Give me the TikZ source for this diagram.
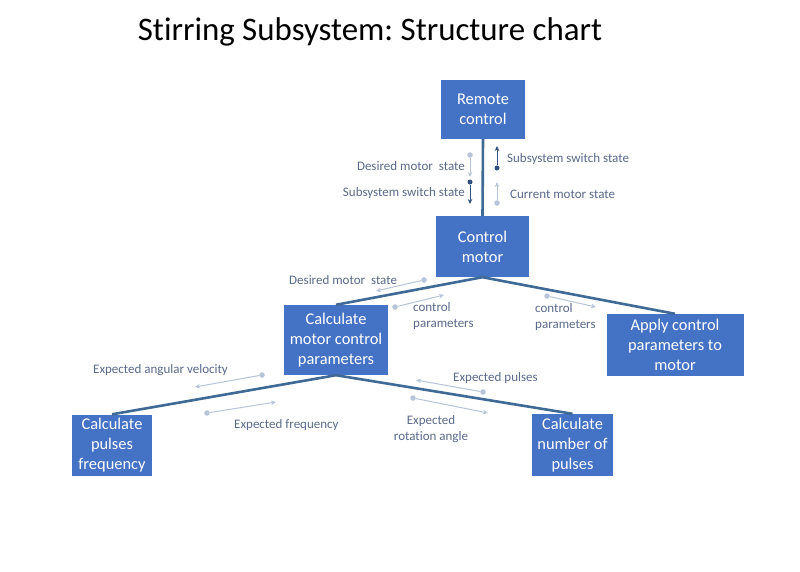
\documentclass[tikz,border=0pt]{standalone}
\usepackage{fontspec}
\setmainfont[Ligatures={NoCommon}]{Carlito}
\usetikzlibrary{arrows.meta}
\frenchspacing
\definecolor{boxblue}{HTML}{4472C4}
\definecolor{linkblue}{HTML}{3F6A95}
\definecolor{lightarr}{HTML}{B8C4D8}
\definecolor{darkdot}{HTML}{34507E}
\definecolor{labelgrey}{HTML}{5A6A8A}
\tikzset{
  box/.style={fill=boxblue, text=white, align=center, font=\fontsize{16.4}{20}\selectfont, inner sep=0pt},
  link/.style={draw=linkblue, line width=2.6pt},
  flowlight/.style={draw=lightarr, line width=1pt, -{Stealth[length=5pt,width=4.5pt]}},
  flowdark/.style={draw=darkdot, line width=1pt, -{Stealth[length=5pt,width=4.5pt]}},
  lightdot/.style={circle, fill=lightarr, inner sep=0pt, minimum size=5.5pt},
  darkdotn/.style={circle, fill=darkdot, inner sep=0pt, minimum size=5pt},
  lbl/.style={text=labelgrey, font=\fontsize{13}{15.5}\selectfont, inner sep=0pt}
}
\begin{document}
\begin{tikzpicture}[x=1pt,y=-1pt]
\useasboundingbox[fill=white] (0,0) rectangle (800,571);
\node[font=\fontsize{32.9}{38}\selectfont, inner sep=0pt] (title) at (370,32) {Stirring Subsystem: Structure chart};

\node[box, minimum width=84pt, minimum height=59pt] (remote) at (483,109.5) {Remote\\control};
\node[box, minimum width=93pt, minimum height=61pt] (ctrl) at (482.5,246.5) {Control\\motor};
\node[box, minimum width=104pt, minimum height=70pt] (calcm) at (336,340) {Calculate\\motor control\\parameters};
\node[box, minimum width=137pt, minimum height=62pt] (apply) at (675,345) {Apply control\\parameters to\\motor};
\node[box, minimum width=80pt, minimum height=61pt] (pulsef) at (112,445) {Calculate\\pulses\\frequency};
\node[box, minimum width=81pt, minimum height=62pt] (pulsen) at (572.5,445) {Calculate\\number of\\pulses};

\draw[link] (remote.south) -- (ctrl.north);
\draw[link] (ctrl.south) -- (calcm.north);
\draw[link] (ctrl.south) -- (apply.north);
\draw[link] (calcm.south) -- (pulsef.north);
\draw[link] (calcm.south) -- (pulsen.north);

% remote <-> control motor flows
\node[lightdot] (d1) at (470,155) {}; \coordinate (t1) at (470,177);
\draw[flowlight] (d1) -- (t1);
\node[lbl, anchor=east] (l1) at (465,166) {Desired motor\ \ state};
\node[darkdotn] (d2) at (470,182) {}; \coordinate (t2) at (470,204);
\draw[flowdark] (d2) -- (t2);
\node[lbl, anchor=east] (l2) at (465,193) {Subsystem switch state};
\node[darkdotn] (d3) at (497,168) {}; \coordinate (t3) at (497,146);
\draw[flowdark] (d3) -- (t3);
\node[lbl, anchor=west] (l3) at (507,159) {Subsystem switch state};
\node[lightdot] (d4) at (497,203) {}; \coordinate (t4) at (497,182);
\draw[flowlight] (d4) -- (t4);
\node[lbl, anchor=west] (l4) at (510,194) {Current motor state};

% control motor <-> children
\node[lightdot] (d5) at (424,280) {}; \coordinate (t5) at (376,291);
\draw[flowlight] (d5) -- (t5);
\node[lbl, anchor=west] (l5) at (289,280) {Desired motor\ \ state};
\node[lightdot] (d6) at (395,307) {}; \coordinate (t6) at (444,295);
\draw[flowlight] (d6) -- (t6);
\node[lbl, anchor=west, align=left] (l6) at (413,316) {control\\parameters};
\node[lightdot] (d7) at (547,296) {}; \coordinate (t7) at (596,307);
\draw[flowlight] (d7) -- (t7);
\node[lbl, anchor=west, align=left] (l7) at (535,317) {control\\parameters};

% calc motor <-> leaves
\node[lightdot] (d8) at (262,375) {}; \coordinate (t8) at (195,387);
\draw[flowlight] (d8) -- (t8);
\node[lbl, anchor=west] (l8) at (93,370) {Expected angular velocity};
\node[lightdot] (d9) at (207,413) {}; \coordinate (t9) at (276,402);
\draw[flowlight] (d9) -- (t9);
\node[lbl, anchor=west] (l9) at (234,425) {Expected frequency};
\node[lightdot] (d10) at (483,392) {}; \coordinate (t10) at (416,380);
\draw[flowlight] (d10) -- (t10);
\node[lbl, anchor=west] (l10) at (453,378) {Expected pulses};
\node[lightdot] (d11) at (413,398) {}; \coordinate (t11) at (488,413);
\draw[flowlight] (d11) -- (t11);
\node[lbl, align=center, font=\fontsize{13}{16}\selectfont] (l11) at (431,429) {Expected\\rotation angle};
\end{tikzpicture}
\end{document}
